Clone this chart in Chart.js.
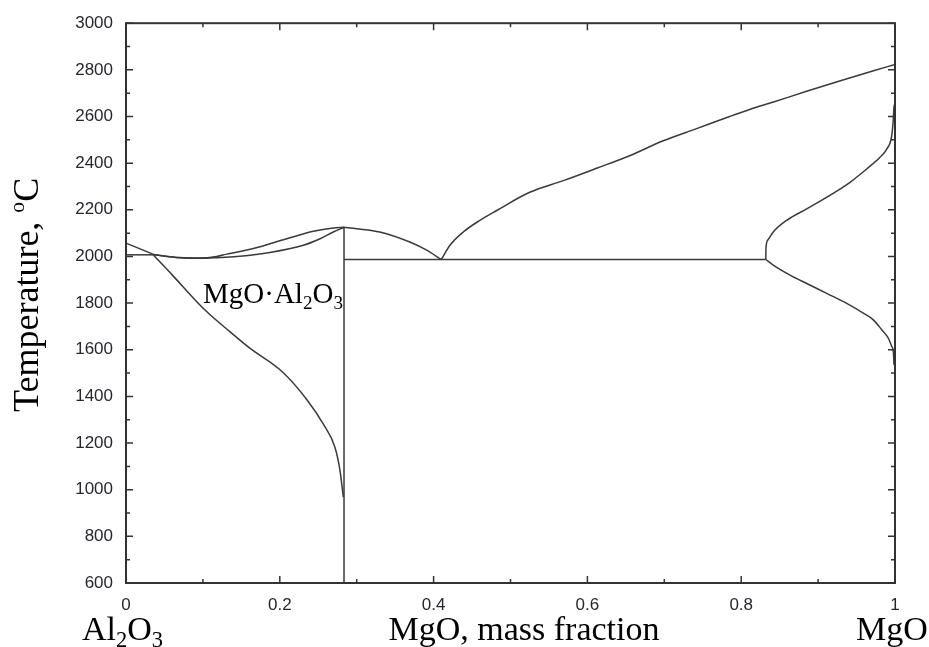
<!DOCTYPE html>
<html>
<head>
<meta charset="utf-8">
<script src="https://cdn.jsdelivr.net/npm/chart.js@4/dist/chart.umd.min.js"></script>
<style>
  html, body { margin: 0; padding: 0; background: #fff; }
</style>
</head>
<body>
<canvas id="canvas" width="929" height="647"></canvas>
<script>
// MgO - Al2O3 phase diagram, x = MgO mass fraction, y = temperature in °C

// liquidus from pure Al2O3 down to the eutectic
const liqAl2O3X = [0, 0.035];
const liqAl2O3T = [2057, 2010];

// eutectic line on the Al2O3 side
const eutLeftX = [0, 0.035];
const eutLeftT = [2007, 2007];

// liquidus between eutectic and spinel
const liqSpinelLeftX = [0.035, 0.07, 0.096, 0.118, 0.131, 0.1655, 0.209, 0.2436, 0.2696, 0.2835];
const liqSpinelLeftT = [2008, 1995, 1993, 2000, 2010, 2034, 2076, 2108, 2122, 2125];

// solidus of the spinel solid solution
const solSpinelX = [0.035, 0.07, 0.096, 0.122, 0.148, 0.187, 0.2306, 0.2523, 0.2696, 0.2835];
const solSpinelT = [2008, 1994, 1992, 1996, 2001, 2017, 2048, 2076, 2105, 2125];

// solvus of the spinel solid solution
const solvSpinelX = [0.035, 0.06, 0.092, 0.109, 0.135, 0.161, 0.2025, 0.235, 0.2566, 0.2718, 0.2783, 0.2826];
const solvSpinelT = [2008, 1921, 1806, 1751, 1678, 1607, 1508, 1387, 1281, 1181, 1082, 968];

// stoichiometric spinel
const spinelX = [0.2835, 0.2835];
const spinelT = [2125, 600];

// liquidus between spinel and the MgO-side eutectic
const liqSpinelRightX = [0.2835, 0.300, 0.330, 0.369, 0.391, 0.41];
const liqSpinelRightT = [2125, 2119, 2105, 2062, 2027, 1987];

// eutectic line on the MgO side
const eutRightX = [0.2835, 0.832];
const eutRightT = [1987, 1987];

// liquidus up to pure MgO
const liqMgOX = [0.41, 0.4213, 0.4386, 0.4603, 0.482, 0.525, 0.5687, 0.612, 0.655, 0.6987, 0.742, 0.785, 0.811, 0.842, 0.885, 0.928, 0.971, 1.0];
const liqMgOT = [1987, 2048, 2105, 2155, 2197, 2275, 2325, 2378, 2432, 2496, 2548, 2600, 2630, 2662, 2708, 2752, 2795, 2823];

// solidus of the MgO solid solution
const solMgOX = [0.832, 0.8322, 0.8345, 0.8417, 0.8592, 0.8852, 0.9285, 0.9415, 0.9632, 0.9805, 0.9892, 0.9957, 0.9978, 0.9987, 1.0];
const solMgOT = [1987, 2035, 2070, 2105, 2155, 2204, 2289, 2318, 2375, 2425, 2460, 2517, 2588, 2640, 2655];

// solvus of the MgO solid solution
const solvMgOX = [0.832, 0.8417, 0.8635, 0.8852, 0.9112, 0.9372, 0.9588, 0.9718, 0.9827, 0.9913, 0.9957, 0.9978, 0.9987];
const solvMgOT = [1987, 1963, 1920, 1884, 1842, 1799, 1757, 1728, 1686, 1650, 1615, 1593, 1536];

// axis ranges and ticks
const xMin = 0, xMax = 1, xMajor = 0.2, xMinor = 0.1;
const tMin = 600, tMax = 3000, tMajor = 200, tMinor = 100;

const curves = [
  [liqAl2O3X, liqAl2O3T],
  [eutLeftX, eutLeftT],
  [liqSpinelLeftX, liqSpinelLeftT],
  [solSpinelX, solSpinelT],
  [solvSpinelX, solvSpinelT],
  [spinelX, spinelT],
  [liqSpinelRightX, liqSpinelRightT],
  [eutRightX, eutRightT],
  [liqMgOX, liqMgOT],
  [solMgOX, solMgOT],
  [solvMgOX, solvMgOT],
];

const toPoints = (xs, ts) => xs.map((x, i) => ({ x: x, y: ts[i] }));

const LINE = '#3a3a3a';
const SERIF = '"Liberation Serif", "Times New Roman", serif';
const SANS = '"Liberation Sans", Arial, sans-serif';

// writes text made of parts, some of them sub- or superscript
function drawRich(ctx, parts, x, y, size) {
  let cx = x;
  parts.forEach(p => {
    let s = size, dy = 0;
    if (p.sub) { s = size * 0.66; dy = size * 0.2; }
    if (p.sup) { s = size * 0.6; dy = -size * 0.38; }
    ctx.font = s + 'px ' + SERIF;
    ctx.fillText(p.t, cx, y + dy);
    cx += ctx.measureText(p.t).width;
  });
}

function richWidth(ctx, parts, size) {
  let w = 0;
  parts.forEach(p => {
    const s = p.sub ? size * 0.66 : p.sup ? size * 0.6 : size;
    ctx.font = s + 'px ' + SERIF;
    w += ctx.measureText(p.t).width;
  });
  return w;
}

// frame with inward ticks on all four sides
const framePlugin = {
  id: 'frame',
  afterDatasetsDraw(chart) {
    const { ctx, chartArea: a, scales } = chart;
    const sx = scales.x, sy = scales.y;
    ctx.save();
    ctx.strokeStyle = '#333';
    ctx.lineWidth = 2;
    ctx.strokeRect(a.left, a.top, a.right - a.left, a.bottom - a.top);

    ctx.lineWidth = 1.5;
    ctx.beginPath();
    for (let t = tMin; t <= tMax + 1e-6; t += tMinor) {
      const y = sy.getPixelForValue(t);
      const len = (Math.round(t) % tMajor === 0) ? 7 : 4;
      ctx.moveTo(a.left, y); ctx.lineTo(a.left + len, y);
      ctx.moveTo(a.right, y); ctx.lineTo(a.right - len, y);
    }
    for (let i = 0; i <= Math.round((xMax - xMin) / xMinor); i++) {
      const v = xMin + i * xMinor;
      const x = sx.getPixelForValue(v);
      const len = (i % 2 === 0) ? 7 : 4;
      ctx.moveTo(x, a.bottom); ctx.lineTo(x, a.bottom - len);
      ctx.moveTo(x, a.top); ctx.lineTo(x, a.top + len);
    }
    ctx.stroke();
    ctx.restore();
  },
  afterDraw(chart) {
    const { ctx } = chart;
    ctx.save();
    ctx.fillStyle = '#000';
    ctx.textBaseline = 'alphabetic';
    ctx.textAlign = 'left';

    // y axis title, read bottom to top
    ctx.save();
    ctx.translate(38, 412);
    ctx.rotate(-Math.PI / 2);
    drawRich(ctx, [{ t: 'Temperature, ' }, { t: 'o', sup: true }, { t: 'C' }], 0, 0, 36);
    ctx.restore();

    // x axis title and the two end members
    const xt = [{ t: 'MgO, mass fraction' }];
    drawRich(ctx, xt, 524 - richWidth(ctx, xt, 34) / 2, 640, 34);
    drawRich(ctx, [{ t: 'Al' }, { t: '2', sub: true }, { t: 'O' }, { t: '3', sub: true }], 82, 640, 34);
    drawRich(ctx, [{ t: 'MgO' }], 856, 640, 34);

    // spinel label
    drawRich(ctx, [{ t: 'MgO·Al' }, { t: '2', sub: true }, { t: 'O' }, { t: '3', sub: true }], 203, 303, 29);
    ctx.restore();
  }
};

new Chart(document.getElementById('canvas'), {
  type: 'scatter',
  data: {
    datasets: curves.map(c => ({
      data: toPoints(c[0], c[1]),
      showLine: true,
      borderColor: LINE,
      borderWidth: 1.5,
      pointRadius: 0,
      cubicInterpolationMode: c[0].length > 2 ? 'monotone' : 'default',
      tension: c[0].length > 2 ? 0.4 : 0,
      clip: false,
    })),
  },
  options: {
    responsive: false,
    animation: false,
    events: [],
    layout: { padding: { left: 0, top: 20, right: 34, bottom: 0 } },
    plugins: { legend: { display: false }, tooltip: { enabled: false } },
    scales: {
      x: {
        type: 'linear',
        min: xMin, max: xMax,
        afterFit: s => { s.height = 64; },
        grid: { display: false, drawTicks: false },
        border: { display: false },
        ticks: {
          stepSize: xMajor,
          padding: 12,
          color: '#262630',
          font: { family: SANS, size: 17 },
          callback: v => String(Math.round(v * 10) / 10),
        },
      },
      y: {
        type: 'linear',
        min: tMin, max: tMax,
        afterFit: s => { s.width = 126; },
        grid: { display: false, drawTicks: false },
        border: { display: false },
        ticks: {
          stepSize: tMajor,
          padding: 13,
          color: '#262630',
          font: { family: SANS, size: 17 },
          callback: v => String(v),
        },
      },
    },
  },
  plugins: [framePlugin],
});
</script>
</body>
</html>
